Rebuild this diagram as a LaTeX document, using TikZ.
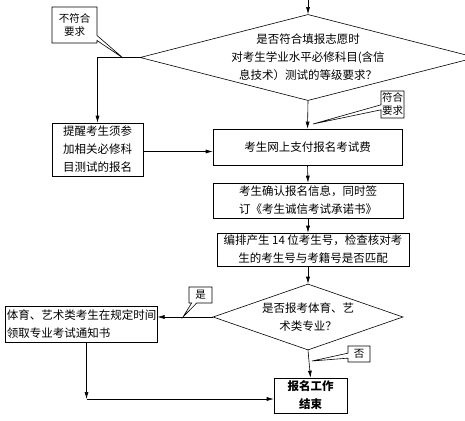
\documentclass[tikz,border=0pt]{standalone}
\usepackage{fontspec}
\setmainfont{Noto Sans CJK SC}
\usetikzlibrary{shapes.geometric,shapes.callouts,arrows.meta}
\tikzset{
  box/.style={draw, align=center, inner sep=1pt, font=\fontsize{11.5}{18}\selectfont},
  decision/.style={draw, diamond, align=center, inner sep=0pt, font=\fontsize{11.5}{18}\selectfont},
  tag/.style={rectangle callout, draw, fill=white, align=center, inner sep=1pt,
    callout pointer width=5pt, font=\fontsize{10.5}{13}\selectfont},
  arrow/.style={-{Latex[length=7pt,width=4pt]}},
}
\begin{document}
\begin{tikzpicture}[x=1pt,y=-1pt,line width=0.6pt]
\useasboundingbox (0,0) rectangle (465,420);
% main column
\coordinate (top) at (308,0);
\node (q1) at (308,57.5) [decision, aspect=3.9, minimum width=330, minimum height=85]
  {是否符合填报志愿时\\对考生学业水平必修科目(含信\\息技术）测试的等级要求？};
\node (pay) at (307.5,147) [box, minimum width=189, minimum height=36] {考生网上支付报名考试费};
\node (confirm) at (308,200.5) [box, minimum width=190, minimum height=35]
  {考生确认报名信息，同时签\\订《考生诚信考试承诺书》};
\node (number) at (313,249.5) [box, minimum width=192, minimum height=33]
  {编排产生 14 位考生号，检查核对考\\生的考生号与考籍号是否匹配};
\node (q2) at (308,317) [decision, aspect=2.9, minimum width=190, minimum height=66]
  {是否报考体育、艺\\术类专业？};
\node (finish) at (310.5,395.5) [box, minimum width=73, minimum height=35, font=\fontsize{11.5}{18}\selectfont\bfseries]
  {报名工作\\结束};
% side boxes
\node (remind) at (97.5,149.5) [box, minimum width=91, minimum height=53]
  {提醒考生须参\\加相关必修科\\目测试的报名};
\node (notice) at (81.5,324) [box, align=left, minimum width=147, minimum height=36]
  {体育、艺术类考生在规定时间\\领取专业考试通知书};
\coordinate (turn) at ([xshift=5pt]notice.south |- 0,399);
% connectors
\draw[arrow] (top) -- (q1.north);
\draw[arrow] (q1.west) -| (remind.north);
\draw[arrow] ([yshift=-2pt]remind.east) -- ([yshift=-2pt]remind.east -| pay.west);
\draw[arrow] (q1.south) -- (pay.north);
\draw[arrow] (pay.south) -- (confirm.north);
\draw[arrow] (confirm.south) -- (confirm.south |- number.north);
\draw[arrow] (number.south -| q2.north) -- (q2.north);
\draw[arrow] (q2.west) -- (q2.west -| notice.east);
\draw[arrow] (q2.south) -- (finish.north);
\draw[arrow] ([xshift=5pt]notice.south) -- (turn);
\draw[arrow] (turn) -- (turn -| finish.west);
% labels
\coordinate (tipno) at (123,58);
\coordinate (tipyes) at (313,124);
\coordinate (tipsport) at (183,317);
\coordinate (tipend) at (312,361);
\node (notok) at (74.5,25) [tag, minimum width=45, minimum height=36, callout absolute pointer={(tipno)}] {不符合\\要求};
\node (ok) at (392.5,104.5) [tag, minimum width=21, minimum height=27, callout absolute pointer={(tipyes)}] {符合\\要求};
\node (yes) at (200.5,295) [tag, minimum width=23, minimum height=16, callout absolute pointer={(tipsport)}] {是};
\node (no) at (359,354) [tag, minimum width=22, minimum height=16, callout absolute pointer={(tipend)}] {否};
\end{tikzpicture}
\end{document}
